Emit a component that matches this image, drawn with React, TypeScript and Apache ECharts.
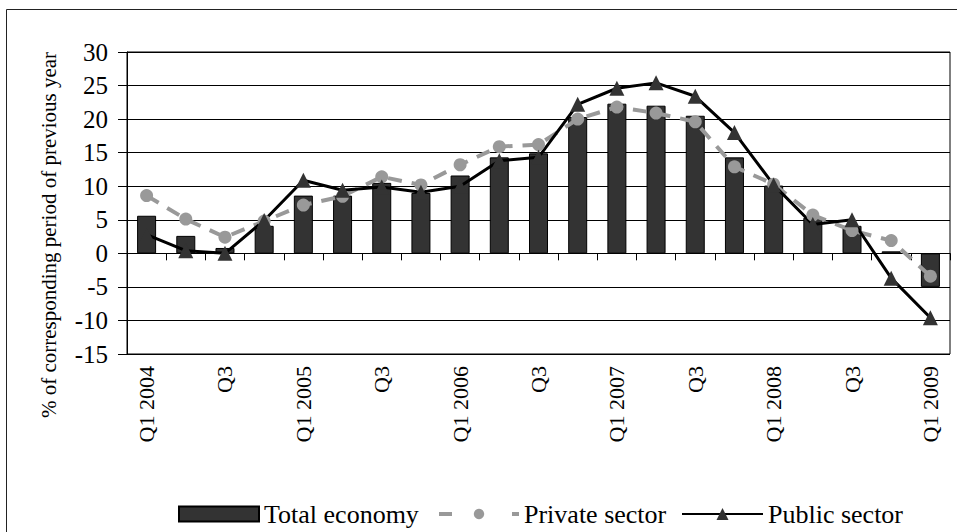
import React, { useEffect, useRef } from "react";
import * as echarts from "echarts";

const categories = [
  "Q1 2004", "Q2", "Q3", "Q4",
  "Q1 2005", "Q2", "Q3", "Q4",
  "Q1 2006", "Q2", "Q3", "Q4",
  "Q1 2007", "Q2", "Q3", "Q4",
  "Q1 2008", "Q2", "Q3", "Q4",
  "Q1 2009",
];
const totalEconomy = [5.6, 2.6, 0.8, 4.1, 8.6, 8.6, 10.5, 9.0, 11.6, 14.3, 14.9, 20.3, 22.3, 22.0, 20.5, 14.3, 10.1, 5.3, 4.1, 0.3, -5.0];
const privateSector = [8.6, 5.1, 2.4, 4.8, 7.2, 8.5, 11.4, 10.2, 13.2, 15.9, 16.2, 20.0, 21.8, 20.9, 19.6, 12.9, 10.3, 5.7, 3.4, 1.9, -3.4];
const publicSector = [2.8, 0.4, 0.0, 4.9, 10.9, 9.4, 9.9, 9.1, 10.0, 13.8, 14.3, 22.2, 24.6, 25.4, 23.4, 18.0, 10.2, 4.3, 5.0, -3.7, -9.6];
const seriesNames = ["Total economy", "Private sector", "Public sector"];
const yTitle = "% of corresponding period of previous year";

const FONT = "Liberation Serif";

export default function App() {
  const ref = useRef<HTMLDivElement>(null);
  useEffect(() => {
    document.body.style.margin = "0";
    const chart = echarts.init(ref.current!, undefined, { renderer: "svg" });
    const legendText = { fontSize: 26, fontFamily: FONT, color: "#000" };
    chart.setOption({
      animation: false,
      backgroundColor: "#fff",
      textStyle: { fontFamily: FONT, color: "#000" },
      grid: {
        left: 127,
        top: 52,
        right: 7,
        bottom: 178,
        show: true,
        borderColor: "#000",
        borderWidth: 1,
        backgroundColor: "transparent",
      },
      graphic: [
        {
          type: "rect",
          shape: { x: 6.5, y: 9.5, width: 960, height: 540 },
          style: { fill: "none", stroke: "#222", lineWidth: 1 },
          silent: true,
        },
      ],
      legend: [
        {
          data: [seriesNames[0]],
          left: 173,
          top: 496,
          icon: "rect",
          itemWidth: 80,
          itemHeight: 15,
          textStyle: legendText,
        },
        {
          data: [seriesNames[1]],
          left: 432,
          top: 496,
          itemWidth: 80,
          itemHeight: 13,
          lineStyle: { type: [13, 60], width: 4, color: "#999999" },
          textStyle: legendText,
        },
        {
          data: [seriesNames[2]],
          left: 676,
          top: 496,
          itemWidth: 81,
          itemHeight: 15,
          textStyle: legendText,
        },
      ],
      xAxis: [
        {
          type: "category",
          data: categories,
          position: "bottom",
          axisLine: { show: true, onZero: true, lineStyle: { color: "#000", width: 1 } },
          axisTick: { show: true, interval: 0, length: 7, alignWithLabel: false, lineStyle: { color: "#000" } },
          axisLabel: { show: false },
          splitLine: { show: false },
        },
        {
          type: "category",
          data: categories,
          position: "bottom",
          axisLine: { show: false, onZero: false },
          axisTick: { show: false },
          axisLabel: {
            show: true,
            interval: 1,
            rotate: 90,
            margin: 12,
            fontSize: 22,
            fontFamily: FONT,
            color: "#000",
          },
          splitLine: { show: false },
        },
      ],
      yAxis: {
        type: "value",
        min: -15,
        max: 30,
        interval: 5,
        name: yTitle,
        nameLocation: "middle",
        nameGap: 68,
        nameRotate: 90,
        nameTextStyle: { fontSize: 21, fontFamily: FONT, color: "#000", padding: [0, 64, 0, 0] },
        axisLine: { show: true, lineStyle: { color: "#000", width: 1 } },
        axisTick: { show: true, length: 9, lineStyle: { color: "#000" } },
        axisLabel: { fontSize: 25, fontFamily: FONT, color: "#000", margin: 19 },
        splitLine: { show: true, lineStyle: { color: "#000", width: 1 } },
      },
      series: [
        {
          name: seriesNames[0],
          type: "bar",
          data: totalEconomy,
          barWidth: 19,
          itemStyle: { color: "#333333", borderColor: "#000", borderWidth: 1 },
        },
        {
          name: seriesNames[1],
          type: "line",
          data: privateSector,
          symbol: "circle",
          symbolSize: 13,
          itemStyle: { color: "#999999" },
          lineStyle: { color: "#999999", width: 4, type: [14, 10] },
        },
        {
          name: seriesNames[2],
          type: "line",
          data: publicSector,
          symbol: "triangle",
          symbolSize: 15,
          itemStyle: { color: "#333333" },
          lineStyle: { color: "#000", width: 3 },
        },
      ],
    });
    return () => chart.dispose();
  }, []);
  return (
    <div
      ref={ref}
      style={{ position: "fixed", left: 0, top: 0, width: 957, height: 532 }}
    />
  );
}
